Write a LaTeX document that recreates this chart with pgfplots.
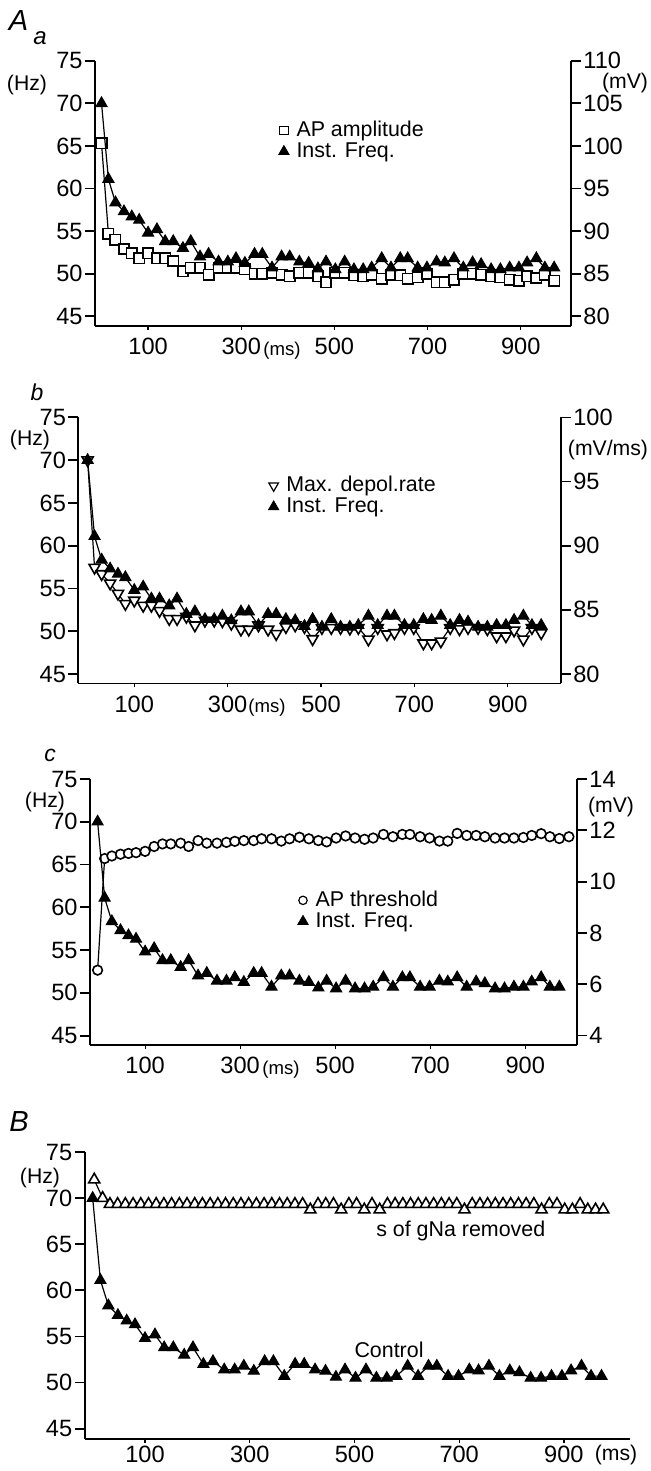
\documentclass[border=0pt]{standalone}
\usepackage{fontspec}
\setmainfont{Liberation Sans}
\usepackage{pgfplots}
\usepackage{pgfplotstable}
\pgfplotsset{compat=1.18}

% instantaneous frequency, control (Hz)
\pgfplotstableread{
t f
0 70.0
14.8 61.1
30.0 58.35
48.2 57.3
65.0 56.7
80.9 56.3
100.0 54.8
119.0 55.2
136.6 53.8
154.0 53.8
174.8 53.0
191.6 53.8
211.5 52.0
229.8 52.3
251.3 51.4
271.2 51.4
288.7 51.8
307.8 51.25
328.5 52.3
345.2 52.3
366.0 50.7
386.6 52.0
404.0 52.0
424.8 51.4
444.7 51.25
464.6 50.6
482.0 51.4
502.0 50.5
522.0 51.4
541.9 50.5
561.8 50.5
580.0 50.7
601.6 51.8
621.5 50.7
641.4 51.8
657.3 51.8
678.8 50.7
698.7 50.7
719.4 51.4
737.0 51.3
756.8 51.8
776.8 50.7
796.7 51.3
815.0 51.1
836.5 50.5
856.4 50.5
876.3 50.7
896.2 50.7
913.7 51.3
933.6 51.8
951.9 50.7
971.8 50.7
}\freq

% AP amplitude (mV)
\pgfplotstableread{
t v
0 100.3
14.8 89.7
30.0 89.0
48.2 87.9
65.0 87.4
80.9 86.8
100.0 87.4
119.0 86.8
136.6 86.8
154.0 86.5
174.8 85.3
191.6 85.7
211.5 85.7
229.8 84.9
251.3 85.7
271.2 85.7
288.7 85.7
307.8 85.5
328.5 85.0
345.2 85.0
366.0 85.1
386.6 84.9
404.0 84.7
424.8 85.1
444.7 85.1
464.6 84.7
482.0 84.0
502.0 85.1
522.0 85.1
541.9 84.8
561.8 84.7
580.0 84.9
601.6 84.4
621.5 84.9
641.4 84.8
657.3 84.4
678.8 84.6
698.7 85.0
719.4 84.0
737.0 84.0
756.8 84.3
776.8 85.0
796.7 85.0
815.0 84.9
836.5 84.7
856.4 84.6
876.3 84.3
896.2 84.2
913.7 84.7
933.6 84.5
951.9 84.9
971.8 84.2
}\amp

% max. depolarisation rate (mV/ms)
\pgfplotstableread{
t v
0 96.67
14.8 88.3
30.0 87.8
48.2 87.07
65.0 86.27
80.9 85.47
100.0 85.73
119.0 85.33
136.6 85.33
154.0 84.93
174.8 84.3
191.6 84.3
211.5 84.47
229.8 83.8
251.3 84.17
271.2 84.17
288.7 84.13
307.8 83.93
328.5 83.47
345.2 83.47
366.0 83.8
386.6 83.47
404.0 83.13
424.8 83.67
444.7 83.8
464.6 83.67
482.0 82.73
502.0 83.6
522.0 83.6
541.9 83.6
561.8 83.55
580.0 83.6
601.6 82.7
621.5 83.6
641.4 83.1
657.3 83.2
678.8 83.6
698.7 83.6
719.4 82.4
737.0 82.4
756.8 82.55
776.8 83.6
796.7 83.5
815.0 83.6
836.5 83.6
856.4 83.5
876.3 82.95
896.2 82.95
913.7 83.4
933.6 82.7
951.9 83.6
971.8 83.2
}\depol

% AP threshold (mV)
\pgfplotstableread{
t v
0 6.55
14.8 10.9
30.0 11.0
48.2 11.07
65.0 11.1
80.9 11.13
100.0 11.18
119.0 11.37
136.6 11.47
154.0 11.47
174.8 11.5
191.6 11.37
211.5 11.6
229.8 11.5
251.3 11.5
271.2 11.53
288.7 11.57
307.8 11.6
328.5 11.6
345.2 11.67
366.0 11.67
386.6 11.58
404.0 11.67
424.8 11.73
444.7 11.67
464.6 11.6
482.0 11.55
502.0 11.7
522.0 11.78
541.9 11.7
561.8 11.65
580.0 11.7
601.6 11.84
621.5 11.75
641.4 11.84
657.3 11.84
678.8 11.75
698.7 11.7
719.4 11.58
737.0 11.58
756.8 11.88
776.8 11.8
796.7 11.8
815.0 11.75
836.5 11.7
856.4 11.7
876.3 11.7
896.2 11.72
913.7 11.8
933.6 11.87
951.9 11.75
971.8 11.68
992.0 11.75
}\thr

% instantaneous frequency, gNa removed (Hz)
\pgfplotstableread{
t f
3.0 72.0
19.0 70.0
33.0 69.35
47.7 69.35
62.4 69.35
77.2 69.35
91.9 69.35
106.6 69.35
121.3 69.35
136.0 69.35
150.8 69.35
165.5 69.35
180.2 69.35
194.9 69.35
209.6 69.35
224.4 69.35
239.1 69.35
253.8 69.35
268.5 69.35
283.2 69.35
298.0 69.35
312.7 69.35
327.4 69.35
342.1 69.35
356.8 69.35
371.6 69.35
386.3 69.35
401.0 69.35
415.7 68.75
430.4 69.35
445.2 69.35
459.9 69.35
474.6 68.75
489.3 69.35
504.0 69.35
518.8 68.75
533.5 69.35
548.2 68.75
562.9 69.35
577.6 69.35
592.4 69.35
607.1 69.35
621.8 69.35
636.5 69.35
651.2 69.35
666.0 69.35
680.7 69.35
695.4 69.35
710.1 68.75
724.8 69.35
739.6 69.35
754.3 69.35
769.0 69.35
783.7 69.35
798.4 69.35
813.2 69.35
827.9 69.35
842.6 69.35
857.3 68.75
872.0 69.35
886.8 69.35
901.5 68.75
916.2 68.75
930.9 69.35
945.6 68.75
960.4 68.75
975.1 68.75
}\gna

\newcommand{\tickfont}{\fontsize{11.8}{13}\selectfont}
\newcommand{\txtfont}{\fontsize{10.7}{12}\selectfont}
\newcommand{\unitfont}{\fontsize{10.6}{12}\selectfont}
\newcommand{\msfont}{\fontsize{9.3}{10}\selectfont}

\pgfplotsset{
  panel/.style={
    scale only axis, clip=false,
    axis x line=bottom, axis y line=left,
    axis line style={line width=0.9pt,-},
    ymin=43.9, ymax=75,
    xtick={100,300,500,700,900}, ytick={45,50,...,75},
    tick align=outside, major tick length=5pt,
    xtick style={line width=0.6pt, black, yscale=0.4},
    ytick style={line width=0.9pt,black},
    tick label style={font=\tickfont, inner sep=1pt},
    /pgf/number format/assume math mode=true,
    legend style={draw=none, fill=none, inner sep=0pt, font=\txtfont,
      row sep=0.5pt, nodes={inner sep=0.5pt}},
    legend cell align=left,
    legend image code/.code={\path (0pt,0pt) (8.6pt,0pt);
      \draw[#1] plot coordinates {(3pt,0pt)};},
  },
  rside/.style={
    scale only axis, clip=false,
    axis x line=none, axis y line=right,
    axis line style={line width=0.9pt,-},
    tick align=outside, major tick length=5pt,
    ytick style={line width=0.9pt,black},
    tick label style={font=\tickfont, inner sep=1pt},
    /pgf/number format/assume math mode=true,
  },
  ifreq/.style={black, line width=0.6pt, mark=triangle*, mark size=3.2pt,
    mark options={solid, fill=black, line width=0.5pt}},
}

\begin{document}
\begin{tikzpicture}
\useasboundingbox (0,0) rectangle (325pt,-735.5pt);

% ---------- A a ----------
\begin{axis}[rside, at={(47.5pt,-162.85pt)}, anchor=south west,
  width=238pt, height=132.5pt, xmin=-14, xmax=1008,
  ymin=78.9, ymax=110, ytick={80,85,...,110}]
\addplot[black, line width=0.6pt, mark=square*, mark size=2.6pt,
  mark options={fill=white, line width=0.8pt}] table[x=t,y=v] {\amp};
\end{axis}
\begin{axis}[panel, at={(47.5pt,-162.85pt)}, anchor=south west,
  width=238pt, height=132.5pt, xmin=-14, xmax=1008,
  legend style={at={(axis cs:377,65.6)}, anchor=west}]
\addplot[ifreq, forget plot] table[x=t,y=f] {\freq};
\addlegendimage{only marks, mark=square*, mark size=2.1pt, mark options={fill=white, line width=0.6pt}}
\addlegendentry{AP amplitude}
\addlegendimage{only marks, mark=triangle*, mark size=3pt, mark options={fill=black}}
\addlegendentry{Inst. Freq.}
\end{axis}

% ---------- b ----------
\begin{axis}[rside, at={(39.15pt,-341.7pt)}, anchor=south west,
  width=241.3pt, height=133pt, xmin=-20, xmax=1014,
  ymin=79.267, ymax=100, ytick={80,85,...,100}]
\addplot[black, line width=0.6pt, mark=triangle*, mark size=3.2pt,
  mark options={fill=white, rotate=180, line width=0.8pt}] table[x=t,y=v] {\depol};
\end{axis}
\begin{axis}[panel, at={(39.15pt,-341.7pt)}, anchor=south west,
  width=241.3pt, height=133pt, xmin=-20, xmax=1014,
  legend style={at={(axis cs:384,65.8)}, anchor=west}]
\addplot[ifreq, forget plot] table[x=t,y=f] {\freq};
\addlegendimage{only marks, mark=triangle*, mark size=2.8pt, mark options={fill=white, rotate=180, line width=0.6pt}}
\addlegendentry{Max. depol.rate}
\addlegendimage{only marks, mark=triangle*, mark size=3pt, mark options={fill=black}}
\addlegendentry{Inst. Freq.}
\end{axis}

% ---------- c ----------
\begin{axis}[rside, at={(45pt,-522.5pt)}, anchor=south west,
  width=243.5pt, height=133pt, xmin=-16, xmax=1009,
  ymin=3.633, ymax=14, ytick={4,6,...,14}]
\addplot[black, line width=0.6pt, mark=*, mark size=2.4pt,
  mark options={fill=white, line width=0.8pt}] table[x=t,y=v] {\thr};
\end{axis}
\begin{axis}[panel, at={(45pt,-522.5pt)}, anchor=south west,
  width=243.5pt, height=133pt, xmin=-16, xmax=1009,
  legend style={at={(axis cs:418,59.6)}, anchor=west}]
\addplot[ifreq, forget plot] table[x=t,y=f] {\freq};
\addlegendimage{only marks, mark=*, mark size=2.1pt, mark options={fill=white, line width=0.6pt}}
\addlegendentry{AP threshold}
\addlegendimage{only marks, mark=triangle*, mark size=3pt, mark options={fill=black}}
\addlegendentry{Inst. Freq.}
\end{axis}

% ---------- B ----------
\begin{axis}[panel, at={(42.3pt,-719.4pt)}, anchor=south west,
  width=272.9pt, height=143.4pt, xmin=-15.4, xmax=1027,
  xticklabel style={yshift=2.5pt}]
\addplot[black, line width=0.6pt, mark=triangle*, mark size=3.2pt,
  mark options={fill=white, line width=0.8pt}] table[x=t,y=f] {\gna};
\addplot[ifreq] table[x=t,y=f] {\freq};
\node[font=\txtfont] at (axis cs:703,66.4) {s of gNa removed};
\node[font=\txtfont] at (axis cs:566,53.6) {Control};
\end{axis}

% ---------- panel letters and units ----------
\node[font=\fontsize{14.5}{15}\selectfont\itshape] at (9.3pt,-10.5pt) {A};
\node[font=\fontsize{12}{13}\selectfont\itshape] at (20pt,-19.3pt) {a};
\node[font=\fontsize{11.5}{13}\selectfont\itshape] at (18.5pt,-196.3pt) {b};
\node[font=\fontsize{11.5}{13}\selectfont\itshape] at (25pt,-377.5pt) {c};
\node[font=\fontsize{14.5}{15}\selectfont\itshape] at (9.5pt,-561pt) {B};

\node[font=\unitfont] at (13.5pt,-42.5pt) {(Hz)};
\node[font=\unitfont] at (312.5pt,-41.5pt) {(mV)};
\node[font=\msfont] at (141pt,-175.5pt) {(ms)};

\node[font=\unitfont] at (15pt,-220pt) {(Hz)};
\node[font=\unitfont] at (304pt,-225pt) {(mV/ms)};
\node[font=\msfont] at (133.5pt,-354pt) {(ms)};

\node[font=\unitfont] at (22.5pt,-401pt) {(Hz)};
\node[font=\unitfont] at (305.5pt,-403.5pt) {(mV)};
\node[font=\msfont] at (140.5pt,-535pt) {(ms)};

\node[font=\unitfont] at (20pt,-589pt) {(Hz)};
\node[font=\unitfont] at (308pt,-727.5pt) {(ms)};
\end{tikzpicture}
\end{document}
